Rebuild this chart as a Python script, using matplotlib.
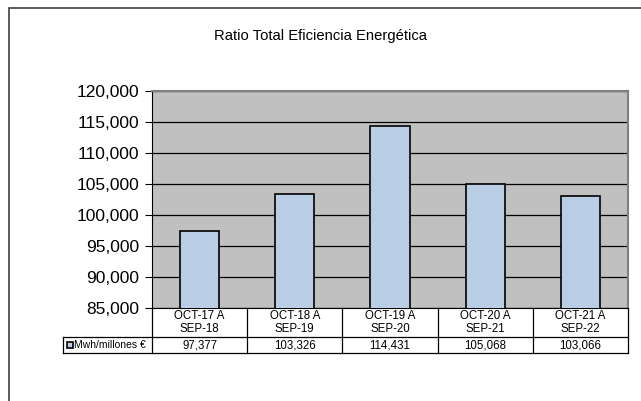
import matplotlib.pyplot as plt
from matplotlib.patches import Rectangle
from matplotlib.ticker import FuncFormatter

plt.rcParams['font.family'] = ['Liberation Sans', 'DejaVu Sans']

categories = ['OCT-17 A\nSEP-18', 'OCT-18 A\nSEP-19', 'OCT-19 A\nSEP-20',
              'OCT-20 A\nSEP-21', 'OCT-21 A\nSEP-22']
values = [97.377, 103.326, 114.431, 105.068, 103.066]
value_labels = ['97,377', '103,326', '114,431', '105,068', '103,066']
series_name = 'Mwh/millones €'
title = 'Ratio Total Eficiencia Energética'

bar_color = '#B9CDE5'
plot_bg = '#C0C0C0'

fig = plt.figure(figsize=(6.41, 4.01), dpi=100)
fig.patch.set_facecolor('white')
ax = fig.add_axes([152 / 641, 1 - 308 / 401, 476 / 641, 217 / 401])
ax.set_facecolor(plot_bg)

x = list(range(len(categories)))
ax.bar(x, values, width=0.41, color=bar_color, edgecolor='black', linewidth=1.2, zorder=3)
ax.set_xlim(-0.5, len(categories) - 0.5)
ax.set_ylim(85, 120)
ax.set_yticks([85, 90, 95, 100, 105, 110, 115, 120])
ax.yaxis.set_major_formatter(FuncFormatter(lambda v, p: f'{v:.3f}'.replace('.', ',')))
ax.tick_params(axis='y', labelsize=12.5, length=5, width=0.8, direction='out', pad=4)
ax.set_xticks([])
ax.grid(axis='y', color='black', linewidth=0.9, zorder=1)
ax.set_axisbelow(True)

for side in ['top', 'right']:
    ax.spines[side].set_color('#808080')
    ax.spines[side].set_linewidth(1.5)
ax.spines['left'].set_color('black')
ax.spines['bottom'].set_color('black')

fig.text(0.5, 1 - 36 / 401, title, ha='center', va='center', fontsize=10.6)

# data table under the plot
h1 = 29 / 217
h2 = 16 / 217
leg_left = (63 - 152) / 476
n = len(categories)
tk = dict(transform=ax.transAxes, clip_on=False, color='black', linewidth=0.9)
for i in range(n + 1):
    ax.plot([i / n, i / n], [0, -h1 - h2], **tk)
ax.plot([leg_left, 1], [-h1, -h1], **tk)
ax.plot([leg_left, 1], [-h1 - h2, -h1 - h2], **tk)
ax.plot([leg_left, leg_left], [-h1, -h1 - h2], **tk)
for i, (c, v) in enumerate(zip(categories, value_labels)):
    ax.text((i + 0.5) / n, -h1 / 2, c, transform=ax.transAxes, ha='center', va='center',
            fontsize=8.3, linespacing=1.1)
    ax.text((i + 0.5) / n, -h1 - h2 / 2, v, transform=ax.transAxes, ha='center', va='center',
            fontsize=8.3)
sq = 6 / 476
ax.add_patch(Rectangle((leg_left + 4 / 476, -h1 - h2 / 2 - 3 / 217), sq, 6 / 217,
                       transform=ax.transAxes, clip_on=False, facecolor=bar_color,
                       edgecolor='black', linewidth=1.2))
ax.text(leg_left + 11 / 476, -h1 - h2 / 2, series_name, transform=ax.transAxes,
        ha='left', va='center', fontsize=7.5)

# outer chart border
fig.add_artist(Rectangle((9 / 641, -0.1), 1.1, 1 - 8 / 401 + 0.1, transform=fig.transFigure,
                         fill=False, edgecolor='#404040', linewidth=1.2))

fig.savefig('out.png', dpi=100)
